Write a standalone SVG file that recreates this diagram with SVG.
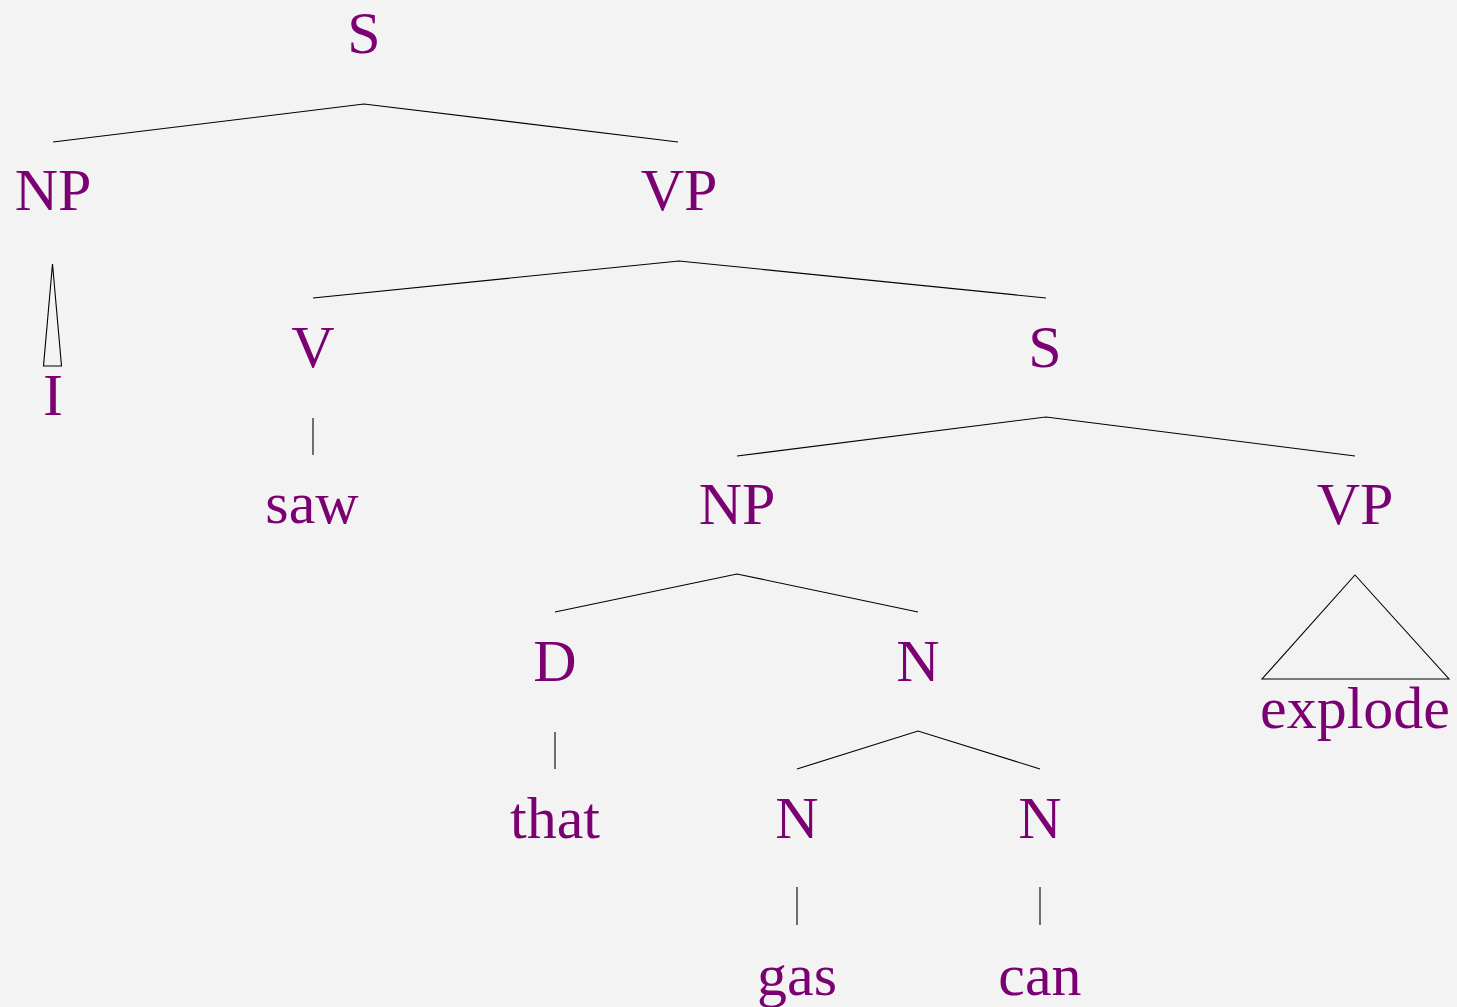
<svg xmlns="http://www.w3.org/2000/svg" width="1457" height="1007" viewBox="0 0 1457 1007">
  <style>
    .lbl { font-family: "Liberation Serif", "Times New Roman", serif; font-size: 60px; fill: #7b0071; text-anchor: middle; }
    .edge { stroke: #000; stroke-width: 1.1; fill: none; }
  </style>
  <rect width="1457" height="1007" fill="#f3f3f3"/>

  <g id="connectors">
    <!-- S -> NP, VP -->
    <polyline class="edge" points="53,142 364,104 678,142"/>
    <!-- NP -> I (roof) -->
    <polygon class="edge" points="52.5,264 61.5,366 43.5,366"/>
    <!-- VP -> V, S -->
    <polyline class="edge" points="313,298 679,261 1046,298"/>
    <!-- V -> saw -->
    <line class="edge" x1="313" y1="418" x2="313" y2="455"/>
    <!-- S -> NP, VP -->
    <polyline class="edge" points="737,456 1046,417 1355,456"/>
    <!-- NP -> D, N -->
    <polyline class="edge" points="555,612 737,574 918,612"/>
    <!-- VP -> explode (roof) -->
    <polygon class="edge" points="1355,575 1449,679 1262,679"/>
    <!-- D -> that -->
    <line class="edge" x1="555" y1="732" x2="555" y2="769"/>
    <!-- N -> N, N -->
    <polyline class="edge" points="797,769 918,731 1040,769"/>
    <!-- N -> gas, N -> can -->
    <line class="edge" x1="797" y1="887" x2="797" y2="925"/>
    <line class="edge" x1="1040" y1="887" x2="1040" y2="925"/>
  </g>

  <g id="n-s-root"><text class="lbl" x="364" y="53">S</text></g>
  <g id="n-np-subj"><text class="lbl" x="53" y="210">NP</text></g>
  <g id="n-vp-main"><text class="lbl" x="679" y="210">VP</text></g>
  <g id="n-i"><text class="lbl" x="53" y="415">I</text></g>
  <g id="n-v"><text class="lbl" x="313" y="367">V</text></g>
  <g id="n-s-emb"><text class="lbl" x="1045" y="367">S</text></g>
  <g id="n-saw"><text class="lbl" x="312" y="523">saw</text></g>
  <g id="n-np-emb"><text class="lbl" x="737" y="524">NP</text></g>
  <g id="n-vp-emb"><text class="lbl" x="1355" y="524">VP</text></g>
  <g id="n-d"><text class="lbl" x="555" y="681">D</text></g>
  <g id="n-n-top"><text class="lbl" x="918" y="681">N</text></g>
  <g id="n-explode"><text class="lbl" x="1355" y="728">explode</text></g>
  <g id="n-that"><text class="lbl" x="555" y="838">that</text></g>
  <g id="n-n-left"><text class="lbl" x="797" y="838">N</text></g>
  <g id="n-n-right"><text class="lbl" x="1040" y="838">N</text></g>
  <g id="n-gas"><text class="lbl" x="797" y="995">gas</text></g>
  <g id="n-can"><text class="lbl" x="1040" y="995">can</text></g>
</svg>
